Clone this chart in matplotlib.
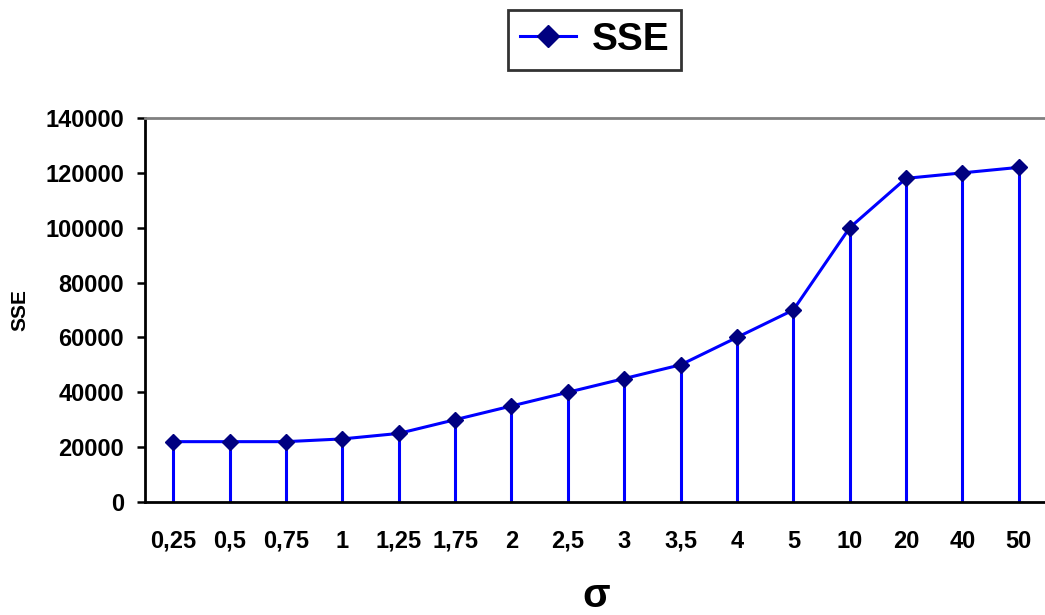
import matplotlib
matplotlib.use("Agg")
import matplotlib.pyplot as plt

# sigma categories and SSE values
sigma_labels = ["0,25", "0,5", "0,75", "1", "1,25", "1,75", "2", "2,5",
                "3", "3,5", "4", "5", "10", "20", "40", "50"]
sse = [22000, 22000, 22000, 23000, 25000, 30000, 35000, 40000,
       45000, 50000, 60000, 70000, 100000, 118000, 120000, 122000]
y_ticks = [0, 20000, 40000, 60000, 80000, 100000, 120000, 140000]

plt.rcParams['font.family'] = ['Liberation Sans', 'DejaVu Sans']
plt.rcParams['font.weight'] = 'bold'

fig = plt.figure(figsize=(10.45, 6.15), dpi=100)
ax = fig.add_axes([145 / 1045, 1 - 502 / 615, 902 / 1045, 384 / 615])

x = list(range(len(sse)))

# drop lines from each point to the axis
ax.vlines(x, 0, sse, colors='#0000FF', linewidth=2.2, zorder=2)
ax.plot(x, sse, color='#0000FF', linewidth=2.2, marker='D', markersize=8.5,
        markerfacecolor='#000080', markeredgecolor='#000080', label='SSE', zorder=3)

ax.set_xlim(-0.5, len(sse) - 0.5)
ax.set_ylim(0, 140000)
ax.set_yticks(y_ticks)
ax.set_yticklabels([str(v) for v in y_ticks])
ax.set_xticks(x)
ax.set_xticklabels(sigma_labels)

ax.tick_params(axis='y', direction='out', length=6, width=1.8, pad=9, labelsize=17)
ax.tick_params(axis='x', length=0, pad=20, labelsize=17)

ax.spines['left'].set_linewidth(2)
ax.spines['bottom'].set_linewidth(2)
ax.spines['top'].set_color('#808080')
ax.spines['top'].set_linewidth(2)
ax.spines['right'].set_visible(False)

ax.set_ylabel('SSE', fontsize=15, fontweight='bold', va='center')
ax.yaxis.set_label_coords((20 - 145) / 902, 0.5)
ax.set_xlabel('σ', fontsize=29, fontweight='bold', va='baseline')
ax.xaxis.set_label_coords(0.5, (502 - 607) / 384)

leg = ax.legend(loc='center', bbox_to_anchor=(594.5 / 1045, 1 - 40 / 615),
                bbox_transform=fig.transFigure, fontsize=28, frameon=True,
                fancybox=False, handlelength=1.45, handletextpad=0.4,
                borderpad=0.3, borderaxespad=0)
leg.get_frame().set_edgecolor('black')
leg.get_frame().set_linewidth(2)
for t in leg.get_texts():
    t.set_fontweight('bold')
for h in leg.legend_handles:
    h.set_markersize(11)

fig.savefig('out.png', dpi=100)
